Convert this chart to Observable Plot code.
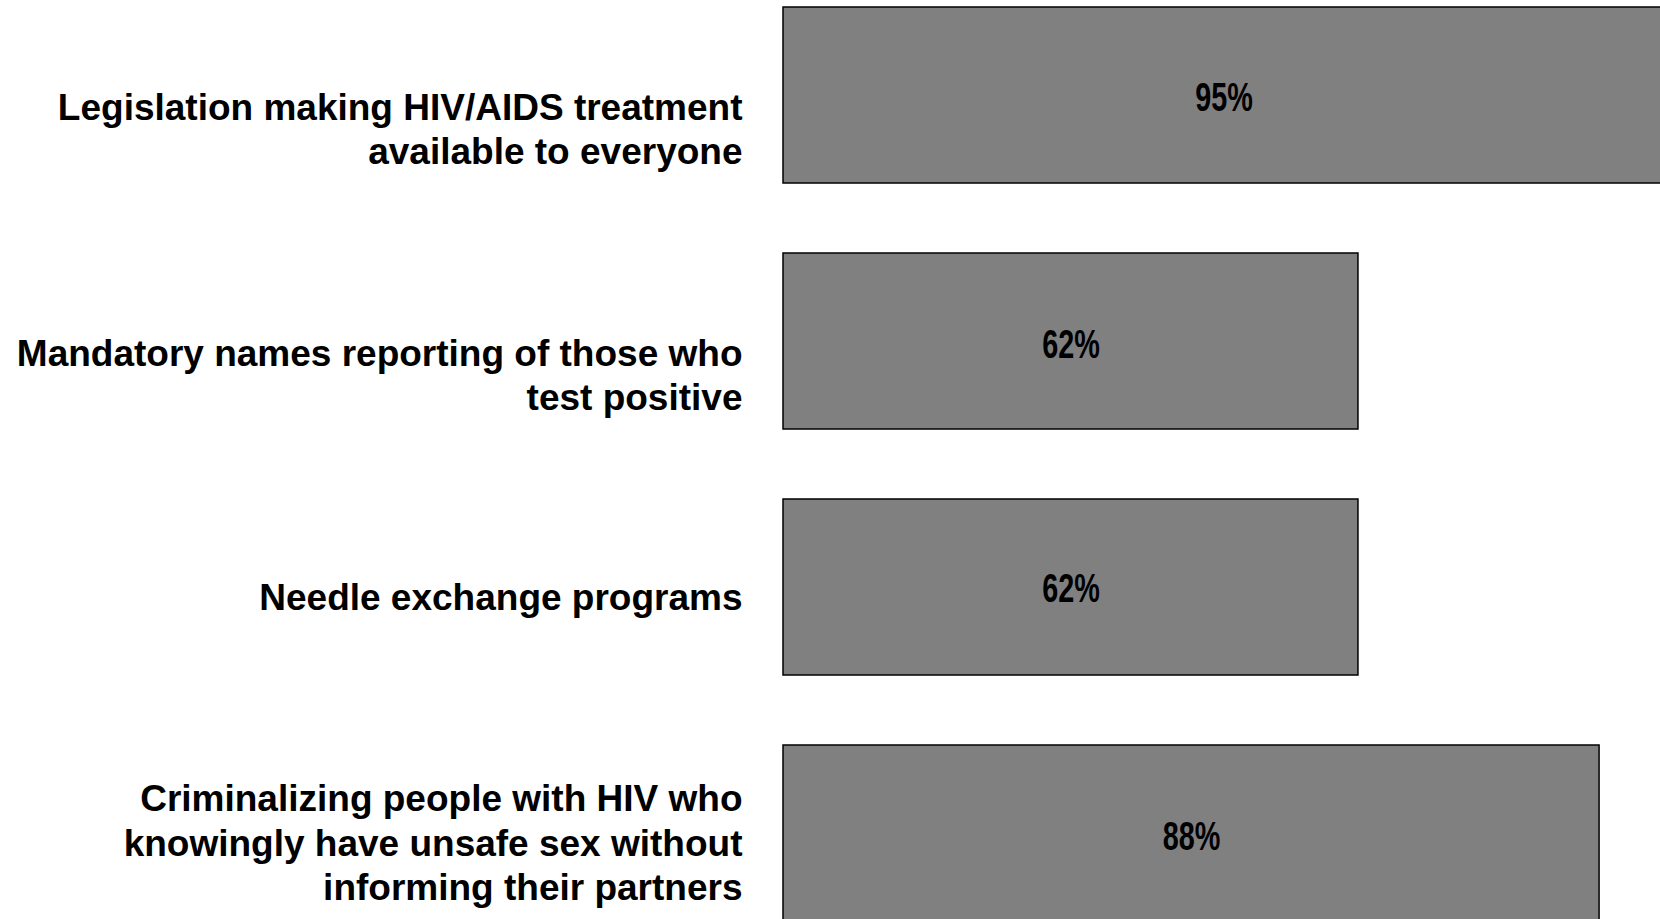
<!DOCTYPE html>
<html>
<head>
<meta charset="utf-8">
<script src="https://cdn.jsdelivr.net/npm/d3@7"></script>
<script src="https://cdn.jsdelivr.net/npm/@observablehq/plot@0.6"></script>
<style>
  html, body { margin: 0; padding: 0; background: #fff; overflow: hidden; }
  #chart svg { display: block; }
</style>
</head>
<body>
<div id="chart"></div>
<script>
const categories = [
  "Legislation making HIV/AIDS treatment\navailable to everyone",
  "Mandatory names reporting of those who\ntest positive",
  "Needle exchange programs",
  "Criminalizing people with HIV who\nknowingly have unsafe sex without\ninforming their partners"
];
const values = [95, 62, 62, 88];
const valueLabels = ["95%", "62%", "62%", "88%"];

const data = categories.map((c, i) => ({category: c, value: values[i], label: valueLabels[i]}));

// per-row vertical nudges (style only)
const catDy = [32, 32, 8, 8];
const valDy = [3, 4, 2, 4];

const marks = [
  Plot.barX(data, {
    x: "value", y: "category",
    fill: "#808080", stroke: "#000", strokeWidth: 1.5
  })
];
data.forEach((d, i) => {
  marks.push(Plot.text([d], {
    x: 0, y: "category", text: "category",
    textAnchor: "end", lineAnchor: "middle", lineHeight: 1.2,
    dx: -41, dy: catDy[i],
    fontSize: 37, fontWeight: "bold", fill: "#000",
    fontFamily: "'Liberation Sans', Arial, sans-serif"
  }));
  marks.push(Plot.text([d], {
    x: dd => dd.value / 2, y: "category", text: "label",
    textAnchor: "middle", lineAnchor: "middle",
    dy: valDy[i],
    fontSize: 40, fontWeight: "bold", fill: "#000",
    fontFamily: "'Liberation Sans', Arial, sans-serif"
  }));
});

const chart = Plot.plot({
  width: 1660,
  height: 922,
  marginLeft: 783, marginRight: 0, marginTop: 6, marginBottom: 0,
  style: {background: "#fff", overflow: "hidden"},
  x: {domain: [0, 94.57], range: [783, 1660], axis: null},
  y: {domain: categories, range: [6, 921.5], paddingInner: 0.283, paddingOuter: 0, axis: null},
  marks
});
document.getElementById("chart").appendChild(chart);

// condense the percentage labels horizontally (Arial Narrow look)
chart.querySelectorAll("text").forEach(t => {
  if (!/%$/.test(t.textContent)) return;
  const b = t.getBBox();
  const cx = b.x + b.width / 2;
  const prev = t.getAttribute("transform") || "";
  t.setAttribute("transform", `${prev} translate(${cx},0) scale(0.72,1) translate(${-cx},0)`.trim());
});
</script>
</body>
</html>
